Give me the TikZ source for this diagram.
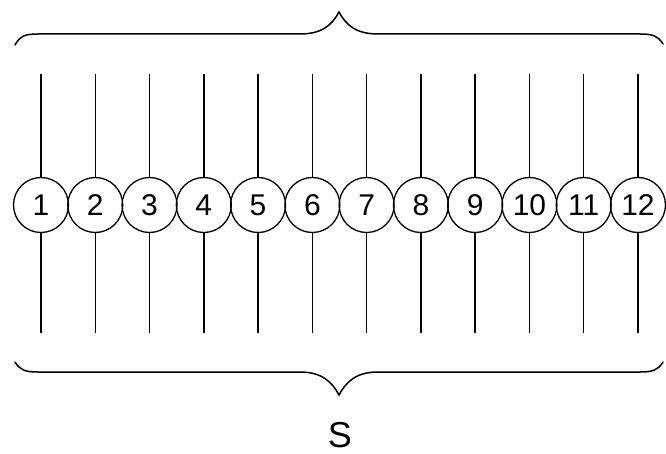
\documentclass[tikz,border=0pt]{standalone}
\usepackage{fontspec}
\setmainfont{Liberation Sans}
\begin{document}
\begin{tikzpicture}[x=1pt,y=-1pt,
  circ/.style={circle,draw,line width=1.3pt,minimum size=55pt,inner sep=0pt,font=\fontsize{30}{30}\selectfont},
  wire/.style={line width=1.5pt},
  bracestyle/.style={line width=1.5pt,line cap=round}]
\useasboundingbox (0,0) rectangle (666,454);
\foreach \i in {1,...,12}{
  \pgfmathsetmacro{\xx}{41+54.27*(\i-1)}
  \node[circ] (c\i) at (\xx,205) {\i};
  \coordinate (t\i) at (\xx,74);
  \coordinate (b\i) at (\xx,333);
  \draw[wire] (t\i) -- (c\i);
  \draw[wire] (c\i) -- (b\i);
}
% top brace
\coordinate (tl) at (15,45);
\coordinate (tr) at (663,44);
\coordinate (ttip) at (339,12);
\draw[bracestyle] (tl) .. controls (20,36) and (25,34) .. (38,34) -- (300,34)
  .. controls (322,34) and (332,25) .. (ttip)
  .. controls (346,25) and (356,34) .. (378,34) -- (640,34)
  .. controls (653,34) and (658,36) .. (tr);
% bottom brace
\coordinate (bl) at (15,362);
\coordinate (br) at (663,362);
\coordinate (btip) at (339,395);
\draw[bracestyle] (bl) .. controls (20,370) and (25,372) .. (38,372) -- (300,372)
  .. controls (322,372) and (332,382) .. (btip)
  .. controls (346,382) and (356,372) .. (378,372) -- (640,372)
  .. controls (653,372) and (658,370) .. (br);
\node[font=\fontsize{36}{36}\selectfont,inner sep=0pt] (S) at (340,435) {S};
\end{tikzpicture}
\end{document}
